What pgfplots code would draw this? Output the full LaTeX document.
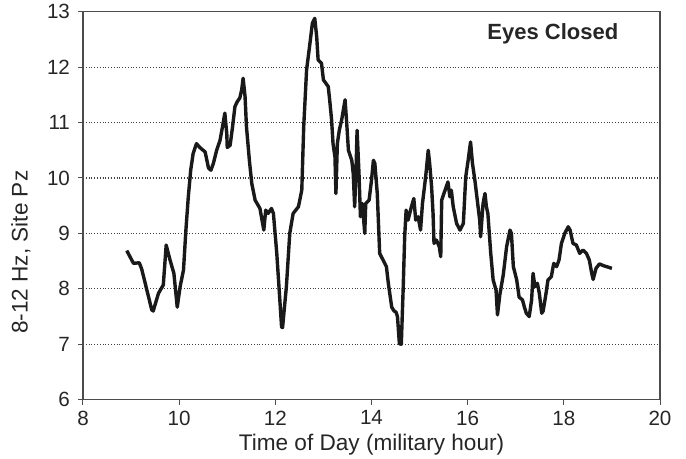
\documentclass[border=0pt]{standalone}
\usepackage{fontspec}
\setmainfont{Liberation Sans}
\usepackage{pgfplots}
\pgfplotsset{compat=1.18}
\begin{document}
\begin{tikzpicture}
\begin{axis}[
  scale only axis,
  width=288.5pt, height=194pt,
  xmin=8, xmax=20, ymin=6, ymax=13,
  xtick={8,10,...,20}, ytick={6,7,...,13},
  minor tick num=0,
  tick align=outside, tick pos=left,
  major tick length=2.5pt,
  every tick/.style={gray!60!black, line width=0.5pt},
  axis line style={gray!60!black, line width=0.6pt},
  ymajorgrids,
  major grid style={densely dotted, gray!50!black, line width=0.55pt},
  /pgf/number format/assume math mode=true,
  ticklabel style={font=\fontsize{10.3}{12}\selectfont, text=black!85},
  xticklabel style={yshift=0.5pt},
  yticklabel style={xshift=-0.5pt},
  xlabel={Time of Day (military hour)},
  ylabel={8-12 Hz, Site Pz},
  label style={font=\fontsize{11.3}{13}\selectfont, text=black!85},
  xlabel style={yshift=2.5pt},
  ylabel style={at={(rel axis cs:-0.1075,0.38)}, anchor=center},
  clip=false,
]
\addplot[black!90, line width=1.7pt, line join=round] coordinates {
(8.91,8.69) (9.05,8.46) (9.17,8.47) (9.22,8.36) (9.43,7.62) (9.46,7.60)
(9.57,7.92) (9.67,8.07) (9.73,8.79) (9.81,8.52) (9.89,8.28) (9.96,7.67)
(10.02,8.04) (10.09,8.34) (10.14,9.06) (10.19,9.66) (10.24,10.14) (10.29,10.44)
(10.36,10.62) (10.43,10.55) (10.54,10.47) (10.61,10.18) (10.66,10.14) (10.71,10.26)
(10.78,10.50) (10.85,10.68) (10.90,10.92) (10.95,11.17) (10.99,10.80) (11.00,10.55)
(11.06,10.59) (11.11,10.92) (11.16,11.29) (11.21,11.38) (11.26,11.44) (11.30,11.59)
(11.33,11.80) (11.37,11.47) (11.40,10.92) (11.46,10.32) (11.51,9.90) (11.58,9.60)
(11.68,9.45) (11.76,9.06) (11.80,9.42) (11.85,9.36) (11.92,9.45) (11.96,9.36)
(12.03,8.64) (12.08,7.98) (12.13,7.31) (12.15,7.30) (12.23,8.04) (12.30,9.00)
(12.37,9.36) (12.48,9.48) (12.55,9.78) (12.59,10.92) (12.65,11.95) (12.72,12.43)
(12.77,12.79) (12.82,12.88) (12.86,12.55) (12.89,12.13) (12.96,12.07) (13.00,11.77)
(13.05,11.71) (13.10,11.65) (13.13,11.41) (13.17,11.05) (13.20,10.62) (13.24,10.38)
(13.26,9.72) (13.29,10.62) (13.33,10.86) (13.38,11.05) (13.45,11.41) (13.48,11.05)
(13.52,10.50) (13.59,10.32) (13.62,10.08) (13.65,9.48) (13.68,10.20) (13.70,10.86)
(13.74,10.08) (13.77,9.30) (13.81,9.54) (13.86,9.00) (13.88,9.54) (13.95,9.60)
(14.00,9.96) (14.04,10.32) (14.07,10.26) (14.12,9.72) (14.17,8.64) (14.24,8.52)
(14.31,8.40) (14.35,8.10) (14.42,7.67) (14.47,7.60) (14.51,7.58) (14.54,7.50)
(14.58,7.01) (14.62,7.00) (14.66,8.04) (14.69,8.94) (14.72,9.42) (14.76,9.24)
(14.83,9.48) (14.88,9.63) (14.92,9.24) (14.97,9.30) (15.02,9.06) (15.06,9.54)
(15.11,9.90) (15.14,10.14) (15.18,10.50) (15.21,10.26) (15.25,9.84) (15.28,9.36)
(15.30,8.82) (15.35,8.88) (15.41,8.76) (15.44,8.58) (15.46,9.60) (15.53,9.78)
(15.59,9.93) (15.63,9.66) (15.66,9.78) (15.70,9.48) (15.77,9.18) (15.84,9.06)
(15.91,9.18) (15.96,10.02) (16.01,10.32) (16.06,10.65) (16.10,10.26) (16.15,9.96)
(16.20,9.60) (16.25,9.24) (16.27,8.94) (16.32,9.54) (16.36,9.72) (16.39,9.48)
(16.42,9.36) (16.48,8.64) (16.53,8.16) (16.59,7.98) (16.62,7.53) (16.67,7.90)
(16.74,8.25) (16.81,8.76) (16.88,9.06) (16.91,9.00) (16.95,8.40) (17.02,8.16)
(17.07,7.85) (17.14,7.80) (17.18,7.67) (17.22,7.56) (17.28,7.50) (17.33,7.80)
(17.36,8.28) (17.40,8.04) (17.45,8.10) (17.49,7.92) (17.54,7.56) (17.57,7.60)
(17.63,7.92) (17.67,8.16) (17.74,8.22) (17.79,8.46) (17.85,8.40) (17.90,8.52)
(17.95,8.82) (18.02,9.00) (18.09,9.12) (18.13,9.06) (18.19,8.82) (18.26,8.79)
(18.33,8.64) (18.40,8.70) (18.47,8.64) (18.53,8.52) (18.58,8.28) (18.61,8.17)
(18.67,8.37) (18.74,8.45) (18.82,8.42) (18.96,8.38) (19.00,8.37)
};
\node[anchor=east, font=\bfseries\fontsize{11}{13}\selectfont, text=black!85]
  at (rel axis cs:0.94,0.943) {Eyes Closed};
\end{axis}
\pgfresetboundingbox
\path[use as bounding box] (current axis.south west) ++(-41.5pt,-29.25pt) rectangle ([shift={(13pt,5.85pt)}]current axis.north east);
\end{tikzpicture}
\end{document}
